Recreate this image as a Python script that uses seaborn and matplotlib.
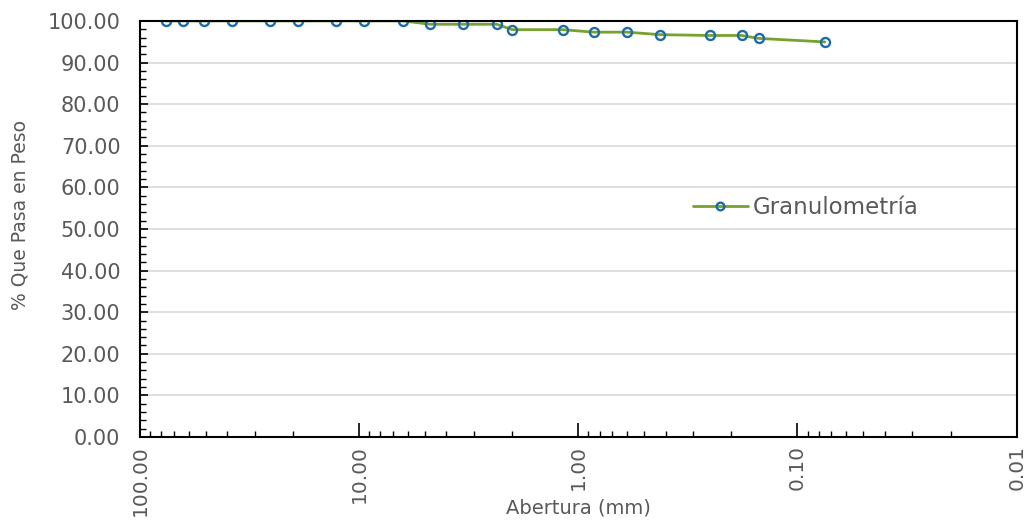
import matplotlib
matplotlib.use("Agg")
import matplotlib.pyplot as plt
import matplotlib.ticker as mticker
import seaborn as sns
import pandas as pd
import numpy as np

# Data
abertura_mm = [76.2, 63.5, 50.8, 38.1, 25.4, 19.05, 12.7, 9.525, 6.3, 4.75,
               3.35, 2.36, 2.00, 1.18, 0.85, 0.60, 0.425, 0.25, 0.18, 0.15, 0.075]
pasa_pct = [100.0, 100.0, 100.0, 100.0, 100.0, 100.0, 100.0, 100.0, 100.0, 99.2,
            99.2, 99.2, 97.9, 97.9, 97.3, 97.3, 96.7, 96.5, 96.5, 95.8, 94.95]
x_tick_values = [100, 10, 1, 0.1, 0.01]
x_tick_labels = ["100.00", "10.00", "1.00", "0.10", "0.01"]
series_name = "Granulometría"

df = pd.DataFrame({"Abertura": abertura_mm, "Pasa": pasa_pct, "Serie": series_name})

sns.set_style("white")
plt.rcParams["font.family"] = ["DejaVu Sans"]
text_color = "#595959"

fig = plt.figure(figsize=(10.29, 5.23), dpi=100)
ax = fig.add_axes([0.136, 0.1644, 0.852, 0.7956])

sns.lineplot(data=df, x="Abertura", y="Pasa", hue="Serie", palette=["#77A22F"],
             marker="o", markersize=6.5, markerfacecolor="none",
             markeredgecolor="#1F6BA5", markeredgewidth=1.7, linewidth=2,
             ax=ax, legend=True)

ax.set_xscale("log")
ax.set_xlim(100, 0.01)
ax.set_ylim(0, 100)

ax.xaxis.set_major_locator(mticker.FixedLocator(x_tick_values))
ax.xaxis.set_minor_locator(mticker.LogLocator(base=10, subs=np.arange(2, 10), numticks=20))
ax.xaxis.set_minor_formatter(mticker.NullFormatter())
ax.set_xticklabels(x_tick_labels, rotation=90, fontsize=14.5, color=text_color)

ax.yaxis.set_major_locator(mticker.MultipleLocator(10))
ax.yaxis.set_minor_locator(mticker.MultipleLocator(2))
ax.yaxis.set_major_formatter(mticker.FormatStrFormatter("%.2f"))
for lbl in ax.get_yticklabels():
    lbl.set_fontsize(15)
    lbl.set_color(text_color)

ax.tick_params(axis="both", which="both", bottom=True, left=True, top=False, right=False)
ax.tick_params(axis="both", which="major", direction="in", length=6, width=1.2, colors="black",
               labelcolor=text_color)
ax.tick_params(axis="both", which="minor", direction="in", length=4, width=1.0, colors="black")
ax.tick_params(axis="x", which="major", length=10, pad=6)
ax.tick_params(axis="y", which="major", pad=14)

ax.grid(axis="y", which="major", color="#D9D9D9", linewidth=1.2)
ax.set_axisbelow(True)
for sp in ax.spines.values():
    sp.set_visible(True)
    sp.set_color("black")
    sp.set_linewidth(1.5)

ax.set_xlabel("Abertura (mm)", fontsize=14, color=text_color)
ax.xaxis.set_label_coords(0.5, -0.147)
ax.set_ylabel("% Que Pasa en Peso", fontsize=13.5, color=text_color)
ax.yaxis.set_label_coords(-0.126, 0.534)

leg = ax.legend(loc="center left", bbox_to_anchor=(0.62, 0.552), frameon=False,
                prop={"size": 16.5}, handlelength=2.4, handletextpad=0.2,
                borderaxespad=0)
for t in leg.get_texts():
    t.set_color(text_color)
for h in leg.legend_handles:
    h.set_markersize(5.5)

fig.savefig("out.png", dpi=100)
